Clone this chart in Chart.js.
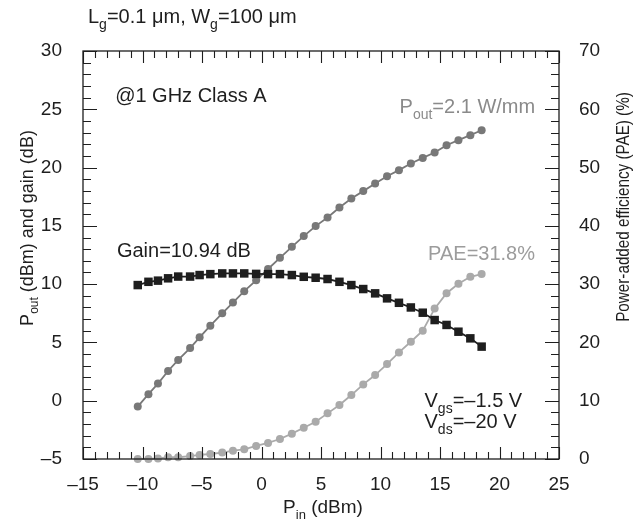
<!DOCTYPE html>
<html>
<head>
<meta charset="utf-8">
<script src="https://cdn.jsdelivr.net/npm/chart.js@4.4.1/dist/chart.umd.min.js"></script>
<style>
  html, body { margin: 0; padding: 0; background: #fff; }
</style>
</head>
<body>
<canvas id="myChart" width="637" height="523"></canvas>
<script>
// input power (dBm)
const pin = [-10.4, -9.5, -8.7, -7.85, -7.0, -6.0, -5.2, -4.3, -3.3, -2.4, -1.45, -0.45,
  0.55, 1.55, 2.55, 3.55, 4.55, 5.55, 6.55, 7.55, 8.55, 9.55, 10.55, 11.55, 12.55,
  13.55, 14.55, 15.55, 16.55, 17.55, 18.5]
// output power (dBm)
const pout = [-0.5, 0.56, 1.47, 2.55, 3.5, 4.52, 5.44, 6.44, 7.5, 8.42, 9.4, 10.33,
  11.3, 12.26, 13.2, 14.12, 14.98, 15.72, 16.58, 17.35, 17.98, 18.64, 19.26, 19.78,
  20.35, 20.83, 21.29, 21.92, 22.35, 22.78, 23.2]
// gain (dB)
const gain = [9.92, 10.2, 10.3, 10.5, 10.65, 10.65, 10.78, 10.86, 10.92, 10.92, 10.92, 10.88,
  10.86, 10.86, 10.78, 10.63, 10.55, 10.44, 10.2, 9.92, 9.58, 9.21, 8.78, 8.4,
  8.0, 7.55, 6.92, 6.5, 5.92, 5.35, 4.64]
// power-added efficiency (%)
const pae = [0.0, 0.0, 0.1, 0.3, 0.3, 0.5, 0.7, 0.86, 1.1, 1.43, 1.66, 2.25,
  2.75, 3.43, 4.35, 5.37, 6.4, 7.83, 9.26, 10.97, 12.8, 14.4, 16.29, 18.29,
  20.11, 22.0, 25.8, 28.45, 30.06, 31.26, 31.72]

const xRange = [-15, 25]
const yRange = [-5, 30]
const y2Range = [0, 70]

const FONT = '"Liberation Sans", Arial, Helvetica, sans-serif'
const INK = '#1e1e1e'

const toPoints = (xs, ys) => xs.map((x, i) => ({ x: x, y: ys[i] }))
const dash = v => String(v).replace('-', '\u2013')

// text with subscripts: parts = [[text, isSub], ...]
const richWidth = (ctx, parts, size) => {
  let w = 0
  parts.forEach(([t, sub]) => {
    ctx.font = (sub ? Math.round(size * 0.68) : size) + 'px ' + FONT
    w += ctx.measureText(t).width
  })
  return w
}
const drawRich = (ctx, parts, x, y, size) => {
  let cx = x
  parts.forEach(([t, sub]) => {
    ctx.font = (sub ? Math.round(size * 0.68) : size) + 'px ' + FONT
    ctx.fillText(t, cx, y + (sub ? size * 0.3 : 0))
    cx += ctx.measureText(t).width
  })
}

const frameAndText = {
  id: 'frameAndText',
  afterDraw(chart) {
    const { ctx, chartArea: a, scales } = chart
    const sx = scales.x, sy = scales.y, sy2 = scales.y2
    ctx.save()
    ctx.strokeStyle = INK
    ctx.lineWidth = 1.3
    ctx.strokeRect(a.left, a.top, a.right - a.left, a.bottom - a.top)

    ctx.lineWidth = 1.1
    ctx.beginPath()
    for (let v = xRange[0]; v <= xRange[1]; v++) {
      const px = Math.round(sx.getPixelForValue(v)) + 0.5
      const len = v % 5 === 0 ? 12 : 7
      ctx.moveTo(px, a.bottom); ctx.lineTo(px, a.bottom - len)
      ctx.moveTo(px, a.top); ctx.lineTo(px, a.top + len)
    }
    for (let v = yRange[0]; v <= yRange[1]; v++) {
      const py = Math.round(sy.getPixelForValue(v)) + 0.5
      const len = v % 5 === 0 ? 14 : 8
      ctx.moveTo(a.left, py); ctx.lineTo(a.left + len, py)
    }
    for (let v = y2Range[0]; v <= y2Range[1]; v += 2) {
      const py = Math.round(sy2.getPixelForValue(v)) + 0.5
      const len = v % 10 === 0 ? 14 : 8
      ctx.moveTo(a.right, py); ctx.lineTo(a.right - len, py)
    }
    ctx.stroke()

    // annotations, placed in data coordinates
    const at = (x, y) => [sx.getPixelForValue(x), sy.getPixelForValue(y)]
    ctx.textBaseline = 'alphabetic'
    ctx.textAlign = 'left'
    ctx.fillStyle = INK
    let p = at(-12.3, 25.65)
    drawRich(ctx, [['@1 GHz Class A', false]], p[0], p[1], 20)
    p = at(-12.15, 12.33)
    drawRich(ctx, [['Gain=10.94 dB', false]], p[0], p[1], 20)
    p = at(13.7, -0.5)
    drawRich(ctx, [['V', false], ['gs', true], ['=\u20131.5 V', false]], p[0], p[1], 20)
    p = at(13.7, -2.36)
    drawRich(ctx, [['V', false], ['ds', true], ['=\u201320 V', false]], p[0], p[1], 20)
    ctx.fillStyle = '#8a8a8a'
    p = at(11.6, 24.68)
    drawRich(ctx, [['P', false], ['out', true], ['=2.1 W/mm', false]], p[0], p[1], 20)
    ctx.fillStyle = '#9c9c9c'
    p = at(14.0, 12.08)
    drawRich(ctx, [['PAE=31.8%', false]], p[0], p[1], 20)

    // header and axis titles
    ctx.fillStyle = INK
    drawRich(ctx, [['L', false], ['g', true], ['=0.1 \u03bcm, W', false], ['g', true], ['=100 \u03bcm', false]], 88, 23, 20)

    const xt = [['P', false], ['in', true], [' (dBm)', false]]
    const xw = richWidth(ctx, xt, 19)
    drawRich(ctx, xt, (a.left + a.right) / 2 - xw / 2 + 2, 513, 19)

    const lt = [['P', false], ['out', true], [' (dBm) and gain (dB)', false]]
    ctx.save()
    ctx.translate(33, 228)
    ctx.rotate(-Math.PI / 2)
    drawRich(ctx, lt, -richWidth(ctx, lt, 18) / 2, 0, 18)
    ctx.restore()

    const rt = [['Power-added efficiency (PAE) (%)', false]]
    ctx.save()
    ctx.translate(629, 207)
    ctx.rotate(-Math.PI / 2)
    ctx.scale(0.87, 1)
    drawRich(ctx, rt, -richWidth(ctx, rt, 17.5) / 2, 0, 17.5)
    ctx.restore()
    ctx.restore()
  }
}

const dataConfig = {
  datasets: [
    {
      label: 'Gain',
      data: toPoints(pin, gain),
      yAxisID: 'y',
      borderColor: INK,
      backgroundColor: INK,
      pointStyle: 'rect',
      pointRadius: 6,
      borderWidth: 1.8,
      pointBorderWidth: 0,
      order: 0,
      clip: false
    },
    {
      label: 'Pout',
      data: toPoints(pin, pout),
      yAxisID: 'y',
      borderColor: '#787878',
      backgroundColor: '#787878',
      pointRadius: 4,
      borderWidth: 1.8,
      pointBorderWidth: 0,
      order: 1,
      clip: false
    },
    {
      label: 'PAE',
      data: toPoints(pin, pae),
      yAxisID: 'y2',
      borderColor: '#aaaaaa',
      backgroundColor: '#aaaaaa',
      pointRadius: 4,
      borderWidth: 1.8,
      pointBorderWidth: 0,
      order: 2,
      clip: false
    }
  ]
}

const tickFont = { family: FONT, size: 19 }

const config = {
  type: 'line',
  data: dataConfig,
  options: {
    responsive: false,
    devicePixelRatio: 1,
    animation: false,
    layout: { padding: { top: 51, left: 0, right: 0, bottom: 0 } },
    plugins: { legend: { display: false }, tooltip: { enabled: false } },
    scales: {
      x: {
        type: 'linear',
        min: xRange[0], max: xRange[1],
        grid: { display: false },
        border: { display: false },
        ticks: { stepSize: 5, font: tickFont, color: INK, padding: 6, callback: dash },
        afterFit: s => { s.height = 64 }
      },
      y: {
        position: 'left',
        min: yRange[0], max: yRange[1],
        grid: { display: false },
        border: { display: false },
        ticks: { stepSize: 5, font: tickFont, color: INK, padding: 13, callback: dash },
        afterFit: s => { s.width = 83 }
      },
      y2: {
        position: 'right',
        min: y2Range[0], max: y2Range[1],
        grid: { display: false },
        border: { display: false },
        ticks: { stepSize: 10, font: tickFont, color: INK, padding: 12 },
        afterFit: s => { s.width = 78 }
      }
    }
  },
  plugins: [frameAndText]
}

const myChart = new Chart(document.getElementById('myChart'), config)
</script>
</body>
</html>
